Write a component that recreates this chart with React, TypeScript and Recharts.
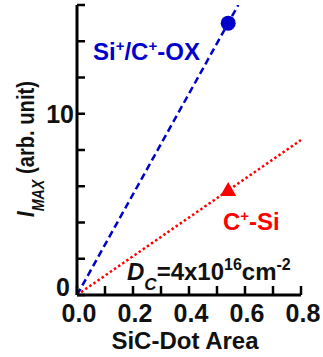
import { ComposedChart, Line, Scatter, XAxis, YAxis, Customized } from 'recharts'

// fitted lines through the origin
const blueFitX = [0, 0.576]
const blueFitY = [0, 16]
const redFitX = [0, 0.8]
const redFitY = [0, 8.55]

// measured points
const blueDotX = [0.54]
const blueDotY = [15.0]
const redDotX = [0.54]
const redDotY = [5.8]

const xTicks = [0, 0.1, 0.2, 0.3, 0.4, 0.5, 0.6, 0.7, 0.8]
const xLabelTicks = [0, 0.2, 0.4, 0.6, 0.8]
const yTicks = [0, 2, 4, 6, 8, 10, 12, 14, 16]
const yLabelTicks = [0, 10]

const BLUE = '#0000cc'
const RED = '#ff0000'
const FONT = '"Liberation Sans", Arial, sans-serif'

const zip = (xs: number[], ys: number[]) => xs.map((x, i) => ({ x, y: ys[i] }))

const blueFit = zip(blueFitX, blueFitY)
const redFit = zip(redFitX, redFitY)
const blueDots = zip(blueDotX, blueDotY)
const redDots = zip(redDotX, redDotY)

const isLabelX = (v: number) => xLabelTicks.some((t) => Math.abs(t - v) < 1e-6)

const BottomTick = ({ x, y, payload }: any) => (
  <g>
    <line x1={x} x2={x} y1={y} y2={y - 9} stroke="#000" strokeWidth={2.5} />
    {isLabelX(payload.value) && (
      <text x={x + 2} y={y + 27} textAnchor="middle" fontFamily={FONT} fontWeight="bold" fontSize={25} fill="#111">
        {payload.value.toFixed(1)}
      </text>
    )}
  </g>
)

const TopTick = ({ x, y }: any) => (
  <line x1={x} x2={x} y1={y} y2={y + 9} stroke="#000" strokeWidth={2.5} />
)

const LeftTick = ({ x, y, payload }: any) => (
  <g>
    <line x1={x} x2={x + 8} y1={y} y2={y} stroke="#000" strokeWidth={2.5} />
    {yLabelTicks.includes(payload.value) && (
      <text
        x={payload.value === 0 ? x - 7 : x - 3}
        y={payload.value === 0 ? y + 1 : y + 9}
        textAnchor="end"
        fontFamily={FONT}
        fontWeight="bold"
        fontSize={25}
        fill="#111"
      >
        {payload.value}
      </text>
    )}
  </g>
)

const RightTick = ({ x, y }: any) => (
  <line x1={x} x2={x - 8} y1={y} y2={y} stroke="#000" strokeWidth={2.5} />
)

const Circle = ({ cx, cy }: any) => <circle cx={cx} cy={cy} r={7.5} fill={BLUE} />
const Triangle = ({ cx, cy }: any) => (
  <polygon points={`${cx},${cy - 8} ${cx + 8},${cy + 6} ${cx - 8},${cy + 6}`} fill={RED} />
)

const Annotations = () => (
  <g fontFamily={FONT} fontWeight="bold">
    <text transform="translate(34,149) rotate(-90) scale(0.84,1)" textAnchor="middle" fontSize={24} fill="#111">
      <tspan fontStyle="italic">I</tspan>
      <tspan fontStyle="italic" fontSize={17} dy={10}>MAX</tspan>
      <tspan dy={-10}> (arb. unit)</tspan>
    </text>
    <text x={185} y={349} textAnchor="middle" fontSize={24} fill="#111">SiC-Dot Area</text>
    <text x={93} y={60} fontSize={24} fill={BLUE}>
      Si<tspan fontSize={15} dy={-9}>+</tspan>
      <tspan dy={9}>/C</tspan>
      <tspan fontSize={15} dy={-9}>+</tspan>
      <tspan dy={9}>-OX</tspan>
    </text>
    <text x={223} y={230} fontSize={24} fill={RED}>
      C<tspan fontSize={15} dy={-9}>+</tspan>
      <tspan dy={9}>-Si</tspan>
    </text>
    <text x={127} y={280} fontSize={24} fill="#111">
      <tspan fontStyle="italic">D</tspan>
      <tspan fontStyle="italic" fontSize={17} dy={10}>C</tspan>
      <tspan dy={-10}>=4x10</tspan>
      <tspan fontSize={16} dy={-10}>16</tspan>
      <tspan dy={10}>cm</tspan>
      <tspan fontSize={16} dy={-10}>-2</tspan>
    </text>
  </g>
)

export default function App() {
  return (
    <div style={{ position: 'absolute', left: 0, top: 0, background: '#fff' }}>
      <ComposedChart width={323} height={357} margin={{ top: 5, right: 22, bottom: 0, left: 0 }}>
        <XAxis
          xAxisId="bottom"
          type="number"
          dataKey="x"
          domain={[0, 0.8]}
          ticks={xTicks}
          interval={0}
          height={62}
          tickSize={0}
          tickMargin={0}
          tickLine={false}
          tick={BottomTick}
          axisLine={{ stroke: '#000', strokeWidth: 3 }}
          allowDataOverflow
        />
        <XAxis
          xAxisId="top"
          orientation="top"
          type="number"
          dataKey="x"
          domain={[0, 0.8]}
          ticks={xTicks}
          interval={0}
          height={0}
          tickSize={0}
          tickMargin={0}
          tickLine={false}
          tick={TopTick}
          axisLine={{ stroke: '#000', strokeWidth: 3 }}
          allowDataOverflow
        />
        <YAxis
          yAxisId="left"
          type="number"
          domain={[0, 16]}
          ticks={yTicks}
          interval={0}
          width={77}
          tickSize={0}
          tickMargin={0}
          tickLine={false}
          tick={LeftTick}
          axisLine={{ stroke: '#000', strokeWidth: 3 }}
          allowDataOverflow
        />
        <YAxis
          yAxisId="right"
          orientation="right"
          type="number"
          domain={[0, 16]}
          ticks={yTicks}
          interval={0}
          width={0}
          tickSize={0}
          tickMargin={0}
          tickLine={false}
          tick={RightTick}
          axisLine={{ stroke: '#000', strokeWidth: 3 }}
          allowDataOverflow
        />
        <Line
          xAxisId="bottom"
          yAxisId="left"
          data={blueFit}
          dataKey="y"
          type="linear"
          stroke={BLUE}
          strokeWidth={2.5}
          strokeDasharray="7 4"
          dot={false}
          isAnimationActive={false}
        />
        <Line
          xAxisId="bottom"
          yAxisId="left"
          data={redFit}
          dataKey="y"
          type="linear"
          stroke={RED}
          strokeWidth={2.5}
          strokeDasharray="2.5 2.5"
          dot={false}
          isAnimationActive={false}
        />
        <Scatter xAxisId="bottom" yAxisId="left" data={blueDots} dataKey="y" shape={Circle} isAnimationActive={false} />
        <Scatter xAxisId="bottom" yAxisId="left" data={redDots} dataKey="y" shape={Triangle} isAnimationActive={false} />
        <Customized component={Annotations} />
      </ComposedChart>
    </div>
  )
}
